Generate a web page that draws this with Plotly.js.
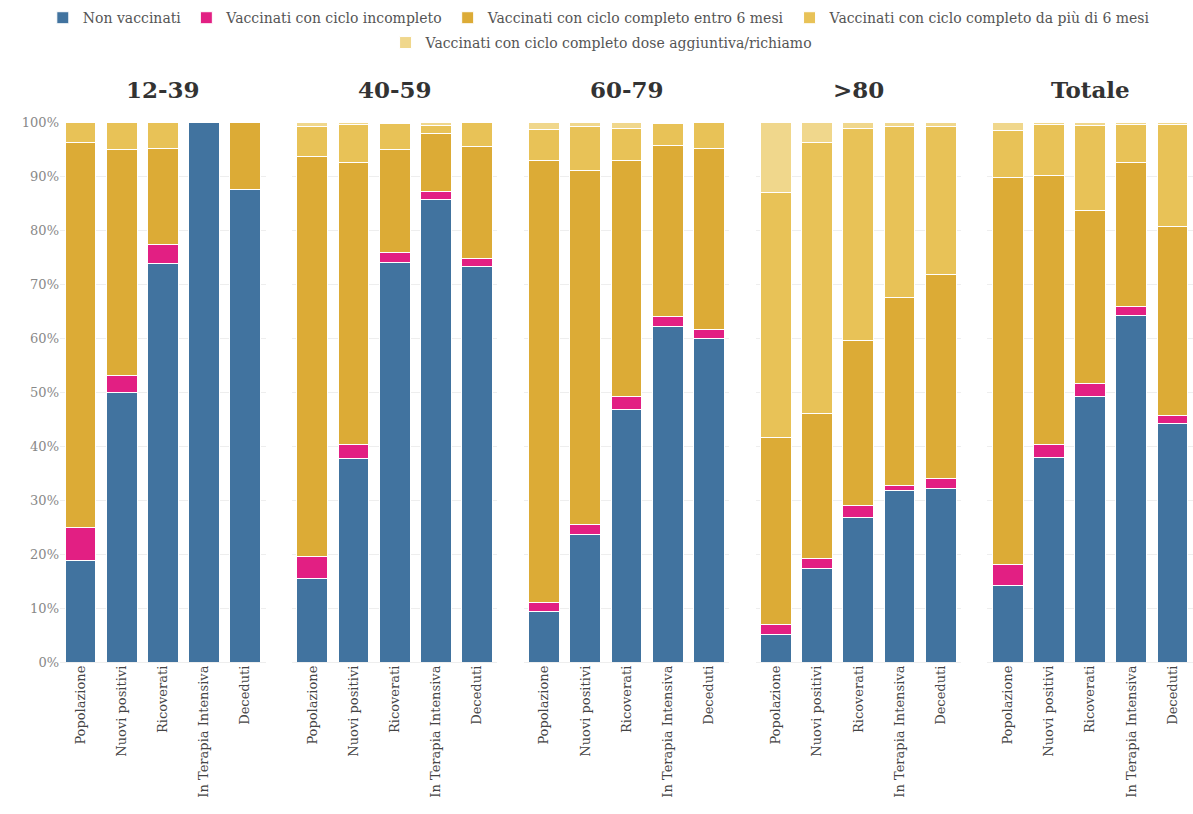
<!DOCTYPE html>
<html>
<head>
<meta charset="utf-8">
<script src="https://cdn.plot.ly/plotly-3.0.1.min.js"></script>
<style>html,body{margin:0;padding:0;background:#fff;}#chart{width:1193px;height:814px;}</style>
</head>
<body>
<div id="chart"></div>
<script>
// Groups (panels) and categories
const groups = ["12-39", "40-59", "60-79", ">80", "Totale"];
const categories = ["Popolazione", "Nuovi positivi", "Ricoverati", "In Terapia Intensiva", "Deceduti"];
const seriesNames = [
  "Non vaccinati",
  "Vaccinati con ciclo incompleto",
  "Vaccinati con ciclo completo entro 6 mesi",
  "Vaccinati con ciclo completo da più di 6 mesi",
  "Vaccinati con ciclo completo dose aggiuntiva/richiamo"
];
// Values (%) per panel, each array in category order
const nonVaccinati = {
  "12-39":  [18.8, 50.0, 73.8, 100.0, 87.5],
  "40-59":  [15.5, 37.6, 73.9, 85.6, 73.2],
  "60-79":  [9.4, 23.6, 46.8, 62.2, 60.0],
  ">80":    [5.1, 17.4, 26.8, 31.8, 32.1],
  "Totale": [14.2, 37.8, 49.2, 64.2, 44.1]
};
const incompleto = {
  "12-39":  [6.1, 3.0, 3.6, 0.0, 0.0],
  "40-59":  [4.1, 2.6, 1.9, 1.6, 1.5],
  "60-79":  [1.7, 1.9, 2.3, 1.8, 1.6],
  ">80":    [1.9, 1.8, 2.1, 0.8, 1.8],
  "Totale": [3.9, 2.4, 2.4, 1.6, 1.6]
};
const entro6 = {
  "12-39":  [71.3, 41.9, 17.7, 0.0, 12.5],
  "40-59":  [74.0, 52.3, 19.2, 10.6, 20.8],
  "60-79":  [81.7, 65.5, 43.8, 31.6, 33.5],
  ">80":    [34.6, 26.8, 30.6, 34.9, 37.9],
  "Totale": [71.7, 49.9, 32.1, 26.7, 35.0]
};
const oltre6 = {
  "12-39":  [3.8, 5.1, 4.9, 0.0, 0.0],
  "40-59":  [5.6, 7.0, 4.7, 1.6, 4.5],
  "60-79":  [5.8, 8.2, 5.9, 4.2, 4.9],
  ">80":    [45.4, 50.2, 39.3, 31.7, 27.4],
  "Totale": [8.7, 9.4, 15.6, 7.0, 18.8]
};
const richiamo = {
  "12-39":  [0.0, 0.0, 0.0, 0.0, 0.0],
  "40-59":  [0.8, 0.5, 0.3, 0.6, 0.0],
  "60-79":  [1.4, 0.8, 1.2, 0.2, 0.0],
  ">80":    [13.0, 3.8, 1.2, 0.8, 0.8],
  "Totale": [1.5, 0.5, 0.7, 0.5, 0.5]
};
const seriesData = [nonVaccinati, incompleto, entro6, oltre6, richiamo];
const colors = ["#41739f", "#e21f83", "#dcab36", "#e8c257", "#f0d78c"];

const FONT = "DejaVu Serif, Liberation Serif, serif";
const n = groups.length;
const w = 0.1815;
const gap = (1 - n * w) / (n - 1);

const traces = [];
seriesData.forEach((s, si) => {
  groups.forEach((g, gi) => {
    traces.push({
      type: "bar",
      x: categories,
      y: s[g],
      name: seriesNames[si],
      legendgroup: seriesNames[si],
      legend: si === 4 ? "legend2" : "legend",
      showlegend: gi === 0,
      xaxis: gi === 0 ? "x" : "x" + (gi + 1),
      yaxis: "y",
      marker: {color: colors[si], line: {color: "#ffffff", width: 1}},
      hovertemplate: "%{x}: %{y}%<extra>" + seriesNames[si] + "</extra>"
    });
  });
});

const legendCommon = {
  orientation: "h", xanchor: "center", yanchor: "top",
  font: {family: FONT, size: 14, color: "#555"},
  traceorder: "normal", itemclick: false, itemdoubleclick: false,
  entrywidthmode: "pixels", entrywidth: 0, itemwidth: 30,
  bgcolor: "rgba(0,0,0,0)"
};

const layout = {
  width: 1193, height: 814,
  margin: {l: 60, r: 0, t: 122, b: 152},
  barmode: "stack",
  bargap: 0.25,
  paper_bgcolor: "#ffffff",
  plot_bgcolor: "#ffffff",
  font: {family: FONT, color: "#555"},
  showlegend: true,
  legend: Object.assign({}, legendCommon, {x: 0.476, y: 1.222}),
  legend2: Object.assign({}, legendCommon, {x: 0.478, y: 1.176}),
  yaxis: {
    range: [0, 100], dtick: 10, ticksuffix: "%",
    showgrid: true, gridcolor: "#eeeeee", zeroline: true, zerolinecolor: "#eeeeee",
    tickfont: {family: FONT, size: 13, color: "#888"}, fixedrange: true
  },
  annotations: []
};
groups.forEach((g, gi) => {
  const key = gi === 0 ? "xaxis" : "xaxis" + (gi + 1);
  const d0 = gi * (w + gap);
  layout[key] = {
    domain: [d0, d0 + w],
    anchor: "y",
    tickangle: -90,
    tickfont: {family: FONT, size: 13, color: "#444"},
    showgrid: false, zeroline: false, showline: false,
    fixedrange: true
  };
  layout.annotations.push({
    text: "<b>" + g + "</b>",
    xref: "paper", yref: "paper",
    x: d0 + w / 2, y: 1.06, xanchor: "center", yanchor: "middle",
    showarrow: false,
    font: {family: FONT, size: 23, color: "#333"}
  });
});

Plotly.newPlot("chart", traces, layout, {displayModeBar: false});
</script>
</body>
</html>
